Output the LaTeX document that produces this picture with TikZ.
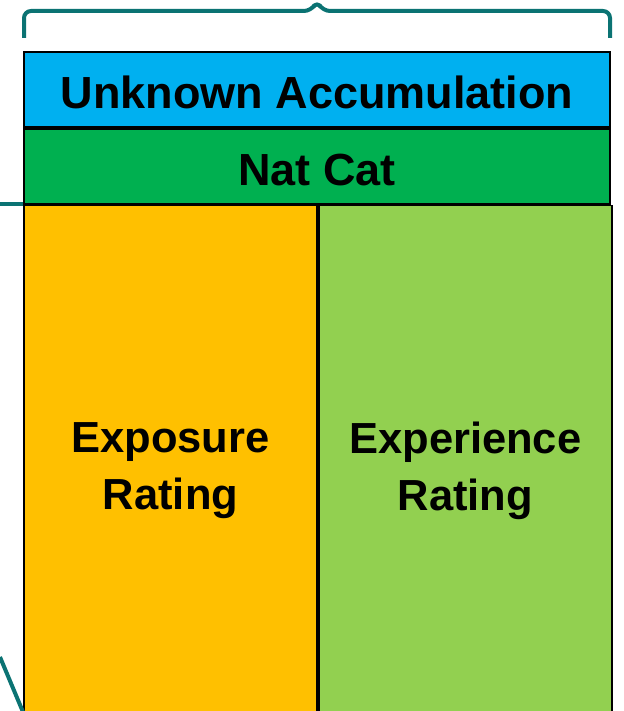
\documentclass[tikz,border=0pt]{standalone}
\usepackage{fontspec}
\setmainfont{Liberation Sans}
\usetikzlibrary{positioning}
\definecolor{acblue}{HTML}{00B0F0}
\definecolor{acgreen}{HTML}{00B050}
\definecolor{acorange}{HTML}{FFC000}
\definecolor{aclime}{HTML}{92D050}
\definecolor{acteal}{HTML}{0B7373}

\begin{document}
\begin{tikzpicture}[x=1pt,y=-1pt,
  cell/.style={draw=black, line width=1.8pt, inner sep=0pt, align=center,
    font=\fontsize{45}{58}\selectfont\bfseries},
  band/.style={cell, minimum width=586pt, minimum height=75pt,
    text height=38pt, text depth=0pt},
  half/.style={cell, minimum width=293pt, minimum height=530pt, anchor=north west,
    font=\fontsize{43.5}{57}\selectfont\bfseries},
  link/.style={acteal, line width=4pt}]
  \clip (0,0) rectangle (623,711);
  % stacked bands on top
  \node[band, fill=acblue] (unknown) at (317,89.5) {Unknown Accumulation};
  \node[band, fill=acgreen, below=0pt of unknown] (natcat) {Nat Cat};
  % two rating columns
  \node[half, fill=acorange] (exposure) at (natcat.south west) {Exposure\\Rating};
  \node[half, fill=aclime] (experience) at (exposure.north east) {Experience\\Rating};
  % brace over the stack
  \draw[link, line cap=butt, rounded corners=7pt]
    (24,38) |- (311,11) -- (317,1) -- (323,11) -| (610,38);
  % lines coming in from the left
  \coordinate (inA) at (0,204);
  \coordinate (inB) at (0,657);
  \draw[link] (inA) -- (inA -| exposure.west);
  \draw[link] (inB) -- (23,712);
\end{tikzpicture}
\end{document}
